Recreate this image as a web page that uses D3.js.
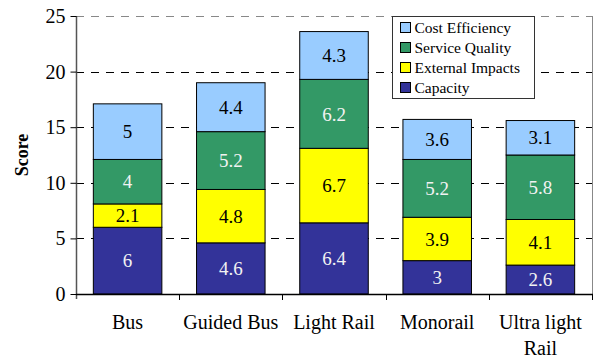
<!DOCTYPE html>
<html>
<head>
<meta charset="utf-8">
<script src="https://cdn.jsdelivr.net/npm/d3@7"></script>
<style>
  html, body { margin: 0; padding: 0; background: #fff; }
  svg { display: block; }
</style>
</head>
<body>
<svg id="chart" width="597" height="358"></svg>
<script>
// Modes compared
const categories = ["Bus", "Guided Bus", "Light Rail", "Monorail", "Ultra light|Rail"];

// Score components, stacked bottom to top
const seriesNames = ["Capacity", "External Impacts", "Service Quality", "Cost Efficiency"];
const capacity        = [6,   4.6, 6.4, 3,   2.6];
const externalImpacts = [2.1, 4.8, 6.7, 3.9, 4.1];
const serviceQuality  = [4,   5.2, 6.2, 5.2, 5.8];
const costEfficiency  = [5,   4.4, 4.3, 3.6, 3.1];

const yTicks = [0, 5, 10, 15, 20, 25];

const colors = ["#333399", "#FFFF00", "#339966", "#99CCFF"];
const labelColors = ["#f2f2f2", "#000", "#f2f2f2", "#000"];
const FONT = "'Liberation Serif', 'Times New Roman', 'DejaVu Serif', serif";

const seriesValues = [capacity, externalImpacts, serviceQuality, costEfficiency];
const rows = categories.map((c, i) => {
  const r = { category: c };
  seriesNames.forEach((s, k) => r[s] = seriesValues[k][i]);
  return r;
});
const stacked = d3.stack().keys(seriesNames)(rows);

const svg = d3.select("#chart").attr("font-family", FONT);
const margin = { left: 76, right: 5, top: 16, bottom: 64 };
const W = 597, H = 358;
const x0 = margin.left, x1 = W - margin.right;
const y0 = H - margin.bottom, y1 = margin.top;

const x = d3.scaleBand().domain(categories).range([x0, x1]).paddingInner(0.336).paddingOuter(0.168);
const y = d3.scaleLinear().domain([0, 25]).range([y0, y1]);

// Dashed gridlines
svg.append("g").selectAll("line").data(yTicks.filter(t => t > 0)).join("line")
  .attr("x1", x0).attr("x2", x1)
  .attr("y1", d => Math.round(y(d)) + 0.5).attr("y2", d => Math.round(y(d)) + 0.5)
  .attr("stroke", d => d === 25 ? "#888" : "#000")
  .attr("stroke-width", 1)
  .attr("stroke-dasharray", "8,7");

// Right border of the plot area
svg.append("line")
  .attr("x1", x1 + 0.5).attr("x2", x1 + 0.5)
  .attr("y1", y1).attr("y2", y0)
  .attr("stroke", "#888");

// Stacked bars
const layers = svg.append("g").selectAll("g").data(stacked).join("g")
  .attr("fill", (d, i) => colors[i]);
layers.selectAll("rect").data(d => d).join("rect")
  .attr("x", d => x(d.data.category))
  .attr("width", x.bandwidth())
  .attr("y", d => y(d[1]))
  .attr("height", d => y(d[0]) - y(d[1]))
  .attr("stroke", "#000")
  .attr("stroke-width", 1);

// Value labels
stacked.forEach((layer, k) => {
  svg.append("g").selectAll("text").data(layer).join("text")
    .attr("x", d => x(d.data.category) + x.bandwidth() / 2)
    .attr("y", d => (y(d[0]) + y(d[1])) / 2)
    .attr("dy", "0.35em")
    .attr("text-anchor", "middle")
    .attr("font-family", FONT)
    .attr("font-size", 19)
    .attr("fill", labelColors[k])
    .text(d => d.data[layer.key]);
});

// Y axis
const yAxis = d3.axisLeft(y).tickValues(yTicks).tickSize(6).tickPadding(5);
const gy = svg.append("g").attr("transform", `translate(${x0 + 0.5},0)`).call(yAxis)
  .attr("font-family", FONT);
gy.select(".domain").attr("stroke", "#555").attr("stroke-width", 1.5).attr("d", `M0,${y1}V${y0 + 5}`);
gy.selectAll(".tick line").attr("stroke", "#000");
gy.selectAll(".tick text").attr("font-size", 20).attr("fill", "#000")
  .attr("font-family", FONT);

// X axis
const bounds = [x0].concat(categories.map((c, i) => x0 + (i + 1) * (x1 - x0) / categories.length));
svg.append("line")
  .attr("x1", x0).attr("x2", x1 + 1)
  .attr("y1", y0 + 0.5).attr("y2", y0 + 0.5)
  .attr("stroke", "#000").attr("stroke-width", 1.3);
svg.append("g").selectAll("line").data(bounds.slice(1)).join("line")
  .attr("x1", d => Math.round(d) + 0.5).attr("x2", d => Math.round(d) + 0.5)
  .attr("y1", y0).attr("y2", y0 + 6)
  .attr("stroke", "#000");

const xl = svg.append("g").selectAll("text").data(categories).join("text")
  .attr("text-anchor", "middle")
  .attr("font-family", FONT)
  .attr("font-size", 20)
  .attr("fill", "#000");
xl.each(function(d) {
  const t = d3.select(this);
  const cx = x(d) + x.bandwidth() / 2;
  d.split("|").forEach((line, j) => {
    t.append("tspan").attr("x", cx).attr("y", y0 + 35 + j * 26).text(line);
  });
});

// Y axis title
svg.append("text")
  .attr("transform", `translate(28,${(y0 + y1) / 2}) rotate(-90)`)
  .attr("text-anchor", "middle")
  .attr("font-family", FONT)
  .attr("font-size", 18)
  .attr("font-weight", "bold")
  .text("Score");

// Legend
const lg = svg.append("g").attr("transform", "translate(392.5,16.5)");
lg.append("rect").attr("width", 142).attr("height", 82)
  .attr("fill", "#fff").attr("stroke", "#333").attr("stroke-width", 1);
const legendOrder = [3, 2, 1, 0];
legendOrder.forEach((k, j) => {
  const g = lg.append("g").attr("transform", `translate(8,${6 + j * 20})`);
  g.append("rect").attr("width", 10).attr("height", 10)
    .attr("fill", colors[k]).attr("stroke", "#000");
  g.append("text").attr("x", 14).attr("y", 5).attr("dy", "0.35em")
    .attr("font-family", FONT)
    .attr("font-size", 15.5).text(seriesNames[k]);
});
</script>
</body>
</html>
